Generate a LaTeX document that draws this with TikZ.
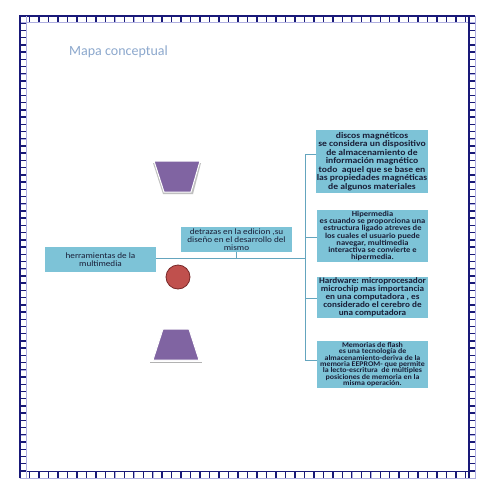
\documentclass[tikz,border=0pt]{standalone}
\usepackage{fontspec}
\setmainfont{Carlito}
\definecolor{boxfill}{RGB}{125,195,215}
\definecolor{linec}{RGB}{100,165,190}
\definecolor{navy}{RGB}{25,25,120}
\definecolor{lav}{RGB}{175,175,225}
\definecolor{titlec}{RGB}{140,168,205}
\definecolor{purp}{RGB}{128,100,162}
\definecolor{redf}{RGB}{192,80,77}
\definecolor{redd}{RGB}{120,40,40}
\definecolor{txt}{RGB}{25,30,55}
\newcommand{\bxfont}[3]{\bfseries\fontsize{#1}{#2}\selectfont\addfontfeatures{FakeStretch=#3}}
\newcommand{\lxfont}[3]{\fontsize{#1}{#2}\selectfont\addfontfeatures{FakeStretch=#3}}
\begin{document}
\begin{tikzpicture}[x=1pt,y=-1pt,
  cbox/.style={fill=boxfill,draw=none,text=txt,align=center,inner sep=1pt,anchor=center},
  rbox/.style={cbox},
  lbox/.style={cbox},
  conn/.style={draw=linec,line width=0.9pt},
  unit/.style={draw=lav,line width=0.4pt},
  unitk/.style={draw=navy,line width=1.4pt}]
\useasboundingbox (0,0) rectangle (495,495);
\fill[white] (0,0) rectangle (495,495);
% border
\foreach \i in {0,...,47}{
  \pgfmathsetmacro\xa{20+\i*9.479}
  \pgfmathsetmacro\xb{\xa+9.479}
  \draw[unit] (\xa,16) rectangle (\xb,22);
  \draw[unitk] (\xa,22) -- (\xa,16) -- (\xb,16);
  \draw[unit] (\xa,471.5) rectangle (\xb,478);
  \draw[unitk] (\xa,478) -- (\xa,471.5) -- (\xb,471.5);
}
\foreach \j in {0,...,63}{
  \pgfmathsetmacro\ya{16+\j*7.22}
  \pgfmathsetmacro\yb{\ya+7.22}
  \draw[unit] (20,\ya) rectangle (26,\yb);
  \draw[unitk] (20,\yb) -- (20,\ya) -- (26,\ya);
  \draw[unit] (469,\ya) rectangle (475,\yb);
  \draw[unitk] (469,\yb) -- (469,\ya) -- (475,\ya);
}
% title
\node[text=titlec,font=\fontsize{14}{16}\selectfont,anchor=west,inner sep=0pt] (title) at (69,52) {Mapa conceptual};
% shapes
\fill[black!25] (153,163) -- (201,163) -- (193,194) -- (163,194) -- cycle;
\fill[purp,draw=white,line width=1pt] (154,161) -- (200,161) -- (191,192) -- (164,192) -- cycle;
\draw[black!30,line width=1pt] (150,362) -- (202,362);
\fill[purp,draw=white,line width=1pt] (163,329) -- (189,329) -- (199,360) -- (153,360) -- cycle;
\node[circle,fill=redf,draw=redd,line width=0.8pt,minimum size=24pt,inner sep=0pt] (circ) at (178,277) {};
% boxes
\node[lbox,minimum width=111pt,minimum height=25pt,font=\lxfont{8.2}{8.4}{1.12}] (left) at (100.5,259.5) {herramientas de la\\multimedia};
\node[lbox,minimum width=111pt,minimum height=25pt,font=\lxfont{8.2}{8.2}{1.12}] (mid) at (236.5,239.5) {detrazas en la edicion ,su\\diseño en el desarrollo del\\mismo};
\node[rbox,minimum width=112pt,minimum height=63pt,font=\bxfont{8.6}{8.5}{1.12}] (b1) at (372,161.5) {discos magnéticos\\se considera un dispositivo\\de almacenamiento de\\información magnético\\todo~ aquel que se base en\\las propiedades magnéticas\\de algunos materiales};
\node[rbox,minimum width=111pt,minimum height=52pt,font=\bxfont{7.6}{7.3}{1.12}] (b2) at (372.5,236) {Hipermedia\\es cuando se proporciona una\\estructura ligado atreves de\\los cuales el usuario puede\\navegar, multimedia\\interactiva se convierte e\\hipermedia.};
\node[rbox,minimum width=111pt,minimum height=41pt,font=\bxfont{8.4}{8.1}{1.09}] (b3) at (372.5,297.5) {Hardware: microprocesador\\microchip mas importancia\\en una computadora , es\\considerado el cerebro de\\una computadora};
\node[rbox,minimum width=111pt,minimum height=45pt,font=\bxfont{7.2}{6.4}{1.1}] (b4) at (372.5,364.5) {Memorias de flash\\es una tecnología de\\almacenamiento-deriva de la\\memoria EEPROM- que permite\\la lecto-escritura~ de múltiples\\posiciones de memoria en la\\misma operación.};
% connectors
\coordinate (t1) at (305,154);
\coordinate (t2) at (305,237);
\coordinate (t3) at (305,298);
\coordinate (t4) at (305,360);
\coordinate (tm) at (305,258);
\draw[conn] (t1) -- (t4);
\draw[conn] (t1) -- (t1 -| b1.west);
\draw[conn] (t2) -- (t2 -| b2.west);
\draw[conn] (t3) -- (t3 -| b3.west);
\draw[conn] (t4) -- (t4 -| b4.west);
\draw[conn] (left.east |- tm) -- (tm);
\draw[conn,line width=0.6pt] (mid.south) -- (mid.south |- tm);
\end{tikzpicture}
\end{document}
